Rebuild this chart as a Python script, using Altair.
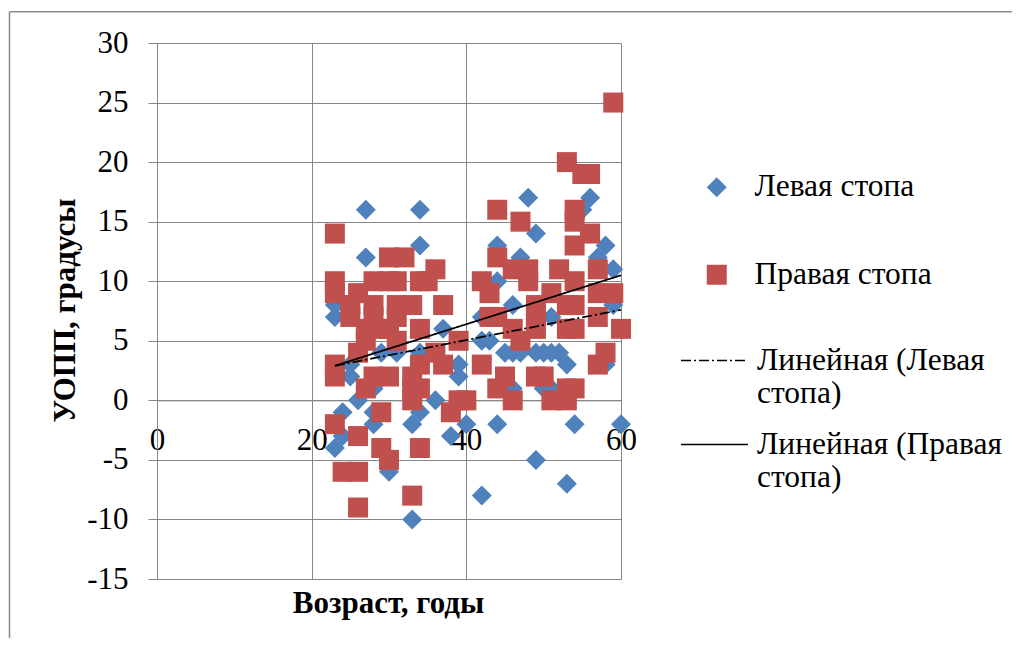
import altair as alt
import pandas as pd

# ---- data ----
series_names = ["Левая стопа", "Правая стопа"]
trend_names = ["Линейная (Левая|стопа)", "Линейная (Правая|стопа)"]

left_age = [23, 23, 23, 24, 24, 25, 25, 26, 27, 27, 28, 28, 28, 29, 29, 30, 31, 31,
            33, 33, 34, 34, 34, 34, 36, 37, 38, 39, 39, 40, 42, 42, 42, 43, 44, 44, 44,
            45, 46, 46, 46, 47, 47, 48, 49, 49, 49, 50, 50, 51, 51, 51, 52, 53, 53,
            54, 55, 56, 57, 58, 58, 59, 59, 60]
left_angle = [8, 7, -4, -1, -3, 3, 2, 0, 16, 12, 1, -1, -2, 4, 2, -6, 8, 4,
              -2, -10, 16, 13, 4, -1, 0, 6, -3, 3, 2, -2, 7, 5, -8, 5, 13, 10, -2,
              4, 8, 4, 1, 12, 4, 17, 14, 4, -5, 4, 1, 7, 4, 1, 4, 3, -7,
              -2, 16, 17, 12, 13, 3, 11, 8, -2]

right_age = [23, 23, 23, 23, 23, 23, 24, 25, 25, 26, 26, 26, 26, 26, 27, 27, 27,
             28, 28, 28, 28, 29, 29, 29, 30, 30, 30, 30, 30, 31, 31, 31, 31, 32,
             33, 33, 33, 33, 33, 34, 34, 34, 34, 34, 35, 36, 36, 37, 37, 38, 39, 39,
             40, 42, 42, 43, 43, 44, 44, 44, 44, 45, 46, 46, 46, 47, 47, 48, 48,
             49, 49, 49, 49, 50, 51, 51, 52, 53, 53, 53, 53, 53,
             54, 54, 54, 54, 54, 54, 54, 55, 56, 56, 57, 57, 57, 57, 58, 59, 59, 60]
right_angle = [14, 10, 9, 3, 2, -2, -6, 8, 7, 9, 4, -3, -6, -9, 6, 5, 1,
               10, 8, 7, 2, 6, -1, -4, 12, 10, 6, 2, -5, 10, 8, 7, 5, 12,
               8, 2, 1, 0, -8, 10, 6, 3, 1, -4, 10, 11, 4, 8, 3, -1, 5, 0,
               0, 10, 3, 9, 7, 16, 12, 7, 1, 2, 11, 6, 0, 15, 5, 11, 10,
               8, 7, 6, 2, 2, 9, 0, 11, 20, 8, 6, 1, 0,
               16, 15, 13, 10, 8, 6, 1, 19, 19, 14, 11, 9, 7, 3, 4, 25, 9, 6]

trend_age = [23, 60]
left_trend = [2.9, 7.6]
right_trend = [2.9, 10.5]

x_ticks = [0, 20, 40, 60]
y_ticks = [-15, -10, -5, 0, 5, 10, 15, 20, 25, 30]

# ---- tables ----
pts = pd.DataFrame({
    "series": [series_names[0]] * len(left_age) + [series_names[1]] * len(right_age),
    "age": left_age + right_age,
    "angle": left_angle + right_angle,
})
trends = pd.DataFrame({
    "trend": [trend_names[0]] * len(trend_age) + [trend_names[1]] * len(trend_age),
    "age": trend_age + trend_age,
    "angle": left_trend + right_trend,
})

FONT = "Liberation Serif, Times New Roman, serif"
GRAY = "#868686"
W, H = 464, 536
y_zero = H * 30 / 45.0
num_label = "datum.value < 0 ? '-' + abs(datum.value) : '' + datum.value"

xscale = alt.Scale(domain=[0, 60], nice=False, zero=False)
yscale = alt.Scale(domain=[-15, 30], nice=False, zero=False)

x_axis = alt.Axis(values=x_ticks, offset=-(H - y_zero), ticks=False, labelPadding=40,
                  labelBaseline="middle", labelFont=FONT, labelFontSize=31, labelColor="black",
                  domainColor=GRAY, gridColor=GRAY, grid=True, labelFlush=False,
                  labelExpr=num_label,
                  title="Возраст, годы", titleFont=FONT, titleFontSize=31, titleFontWeight="bold",
                  titleColor="black", titleX=W / 2 - 1, titleY=203, titleAlign="center",
                  titleBaseline="middle", labelOverlap=False)
y_axis = alt.Axis(values=y_ticks, tickSize=9, tickColor=GRAY, domainColor=GRAY, gridColor=GRAY,
                  grid=True, labelPadding=20, labelFont=FONT, labelFontSize=31, labelColor="black",
                  labelFlush=False, labelOverlap=False, labelExpr=num_label,
                  title="УОПП, градусы", titleFont=FONT, titleFontSize=31, titleFontWeight="bold",
                  titleColor="black", titleX=-92, titleY=H / 2 - 1, titleAlign="center",
                  titleBaseline="middle", titleAngle=270)

pt_legend = alt.Legend(title=None, orient="none", legendX=544, legendY=128.5, padding=0,
                       labelFont=FONT, labelFontSize=31.5, labelColor="black", labelOffset=22,
                       symbolSize=400, rowPadding=54.5, labelLimit=400, symbolStrokeWidth=0)

points = alt.Chart(pts).mark_point(filled=True, size=400, opacity=1, strokeWidth=0).encode(
    x=alt.X("age:Q", scale=xscale, axis=x_axis),
    y=alt.Y("angle:Q", scale=yscale, axis=y_axis),
    color=alt.Color("series:N", scale=alt.Scale(domain=series_names, range=["#4F81BD", "#C0504D"]),
                    legend=pt_legend),
    shape=alt.Shape("series:N", scale=alt.Scale(domain=series_names, range=["diamond", "square"]),
                    legend=pt_legend),
)

ln_legend = alt.Legend(title=None, orient="none", legendX=523, legendY=283, padding=0,
                       labelFont=FONT, labelFontSize=31.5, labelColor="black", labelOffset=8,
                       symbolType="stroke", symbolSize=4489, symbolStrokeWidth=1.5,
                       symbolStrokeColor="black", rowPadding=-15, labelLimit=400,
                       labelBaseline="middle", labelExpr="split(datum.label, '|')")

lines = alt.Chart(trends).mark_line(color="black", strokeWidth=1.75).encode(
    x=alt.X("age:Q", scale=xscale),
    y=alt.Y("angle:Q", scale=yscale),
    strokeDash=alt.StrokeDash("trend:N", scale=alt.Scale(domain=trend_names, range=[[10, 3, 2, 3], [1, 0]]),
                              legend=ln_legend),
)

frame_df = pd.DataFrame({"k": [0]})
frame_top = alt.Chart(frame_df).mark_rule(color="#8a8a8a", strokeWidth=1.5).encode(
    x=alt.value(-147.5), x2=alt.value(900), y=alt.value(-31.3))
frame_left = alt.Chart(frame_df).mark_rule(color="#8a8a8a", strokeWidth=1.5).encode(
    x=alt.value(-147.5), y=alt.value(-31.3), y2=alt.value(640))

chart = alt.layer(points, lines, frame_top, frame_left).properties(
    width=W, height=H,
    autosize=alt.AutoSizeParams(type="none"),
    padding={"left": 149, "top": 35, "right": 391, "bottom": 59},
).configure_view(stroke=GRAY).configure(background="white", font=FONT)

chart.save("out.html", embed_options={"renderer": "svg", "actions": False})
